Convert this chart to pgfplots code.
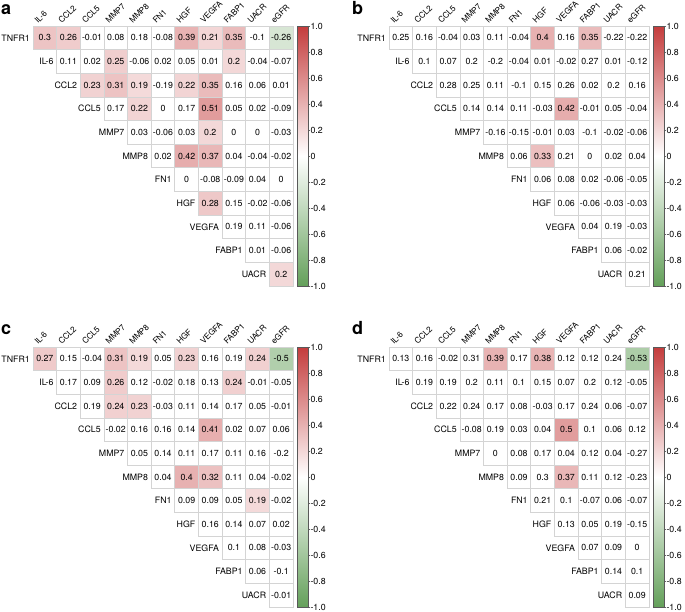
\documentclass[border=0pt]{standalone}
\usepackage{pgfplots}
\usepackage{pgfplotstable}
\usepackage{graphicx}
\pgfplotsset{compat=1.18}
\usepackage{fontspec}
\setmainfont{TeX Gyre Heros}
\newcommand\fs{\fontsize{8.8bp}{10bp}\selectfont}
\newcommand\fsc{\fontsize{8.2bp}{9bp}\selectfont}
\definecolor{pr}{RGB}{196,60,60}
\definecolor{pg}{RGB}{100,160,90}
\definecolor{gridc}{RGB}{212,212,212}
\tikzset{rl/.style={anchor=east, font=\fs, inner sep=0pt, xshift=-3bp},
         cl/.style={anchor=south west, font=\fsc, inner sep=0pt, xshift=-11bp, yshift=2bp}}
\newcommand\rt[1]{\rotatebox{45}{#1}}
\pgfplotsset{
  colormap={gwr}{rgb255=(100,160,90) rgb255=(255,255,255) rgb255=(196,60,60)},
  cm/.style={
    anchor=north west,
    scale only axis, width=260bp, height=260bp,
    xmin=-0.5, xmax=10.5, ymin=-0.5, ymax=10.5,
    clip=false,
    axis line style={draw=none},
    xtick=\empty, ytick=\empty,
    colormap name=gwr, point meta min=-1, point meta max=1,
    colorbar,
    colorbar style={
      at={(parent axis.north east)}, anchor=north west, xshift=-4bp,
      scale only axis, width=10.5bp, height=260bp,
      ytick={-1,-0.8,-0.6,-0.4,-0.2,0,0.2,0.4,0.6,0.8,1},
      yticklabels={-1.0,-0.8,-0.6,-0.4,-0.2,0,0.2,0.4,0.6,0.8,1.0},
      yticklabel style={font=\fs, inner sep=0.3bp},
      ytick pos=right, yticklabel pos=right,
      tick align=outside, major tick length=2bp,
      ytick style={draw=black!60, line width=0.5bp},
      axis line style={draw=black!65, line width=0.6bp},
    },
  },
  cells/.style={only marks, mark=square*, mark size=11.818bp,
    mark options={fill=white, draw=gridc, line width=0.7bp}},
  texts/.style={draw=none, mark=none, point meta=explicit symbolic,
    nodes near coords,
    every node near coord/.append style={anchor=center, font=\fs, inner sep=0pt, text=black}},
}
\newcommand\cR[3]{\addplot[only marks, mark=square*, mark size=11.818bp,
    mark options={fill=pr!#3!white, draw=gridc, line width=0.7bp}] coordinates {(#1,#2)};}
\newcommand\cG[3]{\addplot[only marks, mark=square*, mark size=11.818bp,
    mark options={fill=pg!#3!white, draw=gridc, line width=0.7bp}] coordinates {(#1,#2)};}
\newcommand\lbls{%
  \node[rl] at (axis cs:-0.5,10) {TNFR1};
  \node[rl] at (axis cs:0.5,9) {IL-6};
  \node[rl] at (axis cs:1.5,8) {CCL2};
  \node[rl] at (axis cs:2.5,7) {CCL5};
  \node[rl] at (axis cs:3.5,6) {MMP7};
  \node[rl] at (axis cs:4.5,5) {MMP8};
  \node[rl] at (axis cs:5.5,4) {FN1};
  \node[rl] at (axis cs:6.5,3) {HGF};
  \node[rl] at (axis cs:7.5,2) {VEGFA};
  \node[rl] at (axis cs:8.5,1) {FABP1};
  \node[rl] at (axis cs:9.5,0) {UACR};
  \node[cl] at (axis cs:0,10.5) {\rt{IL-6}};
  \node[cl] at (axis cs:1,10.5) {\rt{CCL2}};
  \node[cl] at (axis cs:2,10.5) {\rt{CCL5}};
  \node[cl] at (axis cs:3,10.5) {\rt{MMP7}};
  \node[cl] at (axis cs:4,10.5) {\rt{MMP8}};
  \node[cl] at (axis cs:5,10.5) {\rt{FN1}};
  \node[cl] at (axis cs:6,10.5) {\rt{HGF}};
  \node[cl] at (axis cs:7,10.5) {\rt{VEGFA}};
  \node[cl] at (axis cs:8,10.5) {\rt{FABP1}};
  \node[cl] at (axis cs:9,10.5) {\rt{UACR}};
  \node[cl] at (axis cs:10,10.5) {\rt{eGFR}};
}
% x = column, y = 10 - row, r = correlation
\pgfplotstableread{
x y r
0 10 0.3
1 10 0.26
2 10 -0.01
3 10 0.08
4 10 0.18
5 10 -0.08
6 10 0.39
7 10 0.21
8 10 0.35
9 10 -0.1
10 10 -0.26
1 9 0.11
2 9 0.02
3 9 0.25
4 9 -0.06
5 9 0.02
6 9 0.05
7 9 0.01
8 9 0.2
9 9 -0.04
10 9 -0.07
2 8 0.23
3 8 0.31
4 8 0.19
5 8 -0.19
6 8 0.22
7 8 0.35
8 8 0.16
9 8 0.06
10 8 0.01
3 7 0.17
4 7 0.22
5 7 0
6 7 0.17
7 7 0.51
8 7 0.05
9 7 0.02
10 7 -0.09
4 6 0.03
5 6 -0.06
6 6 0.03
7 6 0.2
8 6 0
9 6 0
10 6 -0.03
5 5 0.02
6 5 0.42
7 5 0.37
8 5 0.04
9 5 -0.04
10 5 -0.02
6 4 0
7 4 -0.08
8 4 -0.09
9 4 0.04
10 4 0
7 3 0.28
8 3 0.15
9 3 -0.02
10 3 -0.06
8 2 0.19
9 2 0.11
10 2 -0.06
9 1 0.01
10 1 -0.06
10 0 0.2
}\tabA
\pgfplotstableread{
x y r
0 10 0.25
1 10 0.16
2 10 -0.04
3 10 0.03
4 10 0.11
5 10 -0.04
6 10 0.4
7 10 0.16
8 10 0.35
9 10 -0.22
10 10 -0.22
1 9 0.1
2 9 0.07
3 9 0.2
4 9 -0.2
5 9 -0.04
6 9 0.01
7 9 -0.02
8 9 0.27
9 9 0.01
10 9 -0.12
2 8 0.28
3 8 0.25
4 8 0.11
5 8 -0.1
6 8 0.15
7 8 0.26
8 8 0.02
9 8 0.2
10 8 0.16
3 7 0.14
4 7 0.14
5 7 0.11
6 7 -0.03
7 7 0.42
8 7 -0.01
9 7 0.05
10 7 -0.04
4 6 -0.16
5 6 -0.15
6 6 -0.01
7 6 0.03
8 6 -0.1
9 6 -0.02
10 6 -0.06
5 5 0.06
6 5 0.33
7 5 0.21
8 5 0
9 5 0.02
10 5 0.04
6 4 0.06
7 4 0.08
8 4 0.02
9 4 -0.06
10 4 -0.05
7 3 0.06
8 3 -0.06
9 3 -0.03
10 3 -0.03
8 2 0.04
9 2 0.19
10 2 -0.03
9 1 0.06
10 1 -0.02
10 0 0.21
}\tabB
\pgfplotstableread{
x y r
0 10 0.27
1 10 0.15
2 10 -0.04
3 10 0.31
4 10 0.19
5 10 0.05
6 10 0.23
7 10 0.16
8 10 0.19
9 10 0.24
10 10 -0.5
1 9 0.17
2 9 0.09
3 9 0.26
4 9 0.12
5 9 -0.02
6 9 0.18
7 9 0.13
8 9 0.24
9 9 -0.01
10 9 -0.05
2 8 0.19
3 8 0.24
4 8 0.23
5 8 -0.03
6 8 0.11
7 8 0.14
8 8 0.17
9 8 0.05
10 8 -0.01
3 7 -0.02
4 7 0.16
5 7 0.16
6 7 0.14
7 7 0.41
8 7 0.02
9 7 0.07
10 7 0.06
4 6 0.05
5 6 0.14
6 6 0.11
7 6 0.17
8 6 0.11
9 6 0.16
10 6 -0.2
5 5 0.04
6 5 0.4
7 5 0.32
8 5 0.11
9 5 0.04
10 5 -0.02
6 4 0.09
7 4 0.09
8 4 0.05
9 4 0.19
10 4 -0.02
7 3 0.16
8 3 0.14
9 3 0.07
10 3 0.02
8 2 0.1
9 2 0.08
10 2 -0.03
9 1 0.06
10 1 -0.1
10 0 -0.01
}\tabC
\pgfplotstableread{
x y r
0 10 0.13
1 10 0.16
2 10 -0.02
3 10 0.31
4 10 0.39
5 10 0.17
6 10 0.38
7 10 0.12
8 10 0.12
9 10 0.24
10 10 -0.53
1 9 0.19
2 9 0.19
3 9 0.2
4 9 0.11
5 9 0.1
6 9 0.15
7 9 0.07
8 9 0.2
9 9 0.12
10 9 -0.05
2 8 0.22
3 8 0.24
4 8 0.17
5 8 0.08
6 8 -0.03
7 8 0.17
8 8 0.24
9 8 0.06
10 8 -0.07
3 7 -0.08
4 7 0.19
5 7 0.03
6 7 0.04
7 7 0.5
8 7 0.1
9 7 0.06
10 7 0.12
4 6 0
5 6 0.08
6 6 0.17
7 6 0.04
8 6 0.12
9 6 0.04
10 6 -0.27
5 5 0.09
6 5 0.3
7 5 0.37
8 5 0.11
9 5 0.12
10 5 -0.23
6 4 0.21
7 4 0.1
8 4 -0.07
9 4 0.06
10 4 -0.07
7 3 0.13
8 3 0.05
9 3 0.19
10 3 -0.15
8 2 0.07
9 2 0.09
10 2 0
9 1 0.14
10 1 0.1
10 0 0.09
}\tabD
\begin{document}
\begin{tikzpicture}
\useasboundingbox (0,0) rectangle (685bp,-612bp);
\node[anchor=base west, font=\fontsize{18bp}{20bp}\selectfont\bfseries, inner sep=0pt] at (1bp,-14bp) {a};
\node[anchor=base west, font=\fontsize{18bp}{20bp}\selectfont\bfseries, inner sep=0pt] at (352bp,-14bp) {b};
\node[anchor=base west, font=\fontsize{18bp}{20bp}\selectfont\bfseries, inner sep=0pt] at (1bp,-334bp) {c};
\node[anchor=base west, font=\fontsize{18bp}{20bp}\selectfont\bfseries, inner sep=0pt] at (352bp,-334bp) {d};

% ---------------- panel a
\begin{axis}[cm, at={(33bp,-26bp)}]
\addplot[cells] table[x=x,y=y] {\tabA};
\cR{0}{10}{30}\cR{1}{10}{26}\cR{6}{10}{39}\cR{7}{10}{21}\cR{8}{10}{35}\cG{10}{10}{26}
\cR{3}{9}{25}\cR{8}{9}{20}
\cR{2}{8}{23}\cR{3}{8}{31}\cR{4}{8}{19}\cR{6}{8}{22}\cR{7}{8}{35}
\cR{4}{7}{22}\cR{7}{7}{51}
\cR{7}{6}{20}
\cR{6}{5}{42}\cR{7}{5}{37}
\cR{7}{3}{28}
\cR{10}{0}{20}
\addplot[texts] table[x=x,y=y,meta=r] {\tabA};
\lbls
\end{axis}

% ---------------- panel b
\begin{axis}[cm, at={(389bp,-26bp)}]
\addplot[cells] table[x=x,y=y] {\tabB};
\cR{6}{10}{40}\cR{8}{10}{35}
\cR{7}{7}{42}
\cR{6}{5}{33}
\addplot[texts] table[x=x,y=y,meta=r] {\tabB};
\lbls
\end{axis}

% ---------------- panel c
\begin{axis}[cm, at={(33bp,-347bp)}]
\addplot[cells] table[x=x,y=y] {\tabC};
\cR{0}{10}{27}\cR{3}{10}{31}\cR{4}{10}{19}\cR{6}{10}{23}\cR{9}{10}{24}\cG{10}{10}{50}
\cR{3}{9}{26}\cR{8}{9}{24}
\cR{3}{8}{24}\cR{4}{8}{23}
\cR{7}{7}{41}
\cR{6}{5}{40}\cR{7}{5}{32}
\cR{9}{4}{19}
\addplot[texts] table[x=x,y=y,meta=r] {\tabC};
\lbls
\end{axis}

% ---------------- panel d
\begin{axis}[cm, at={(389bp,-347bp)}]
\addplot[cells] table[x=x,y=y] {\tabD};
\cR{4}{10}{39}\cR{6}{10}{38}\cG{10}{10}{53}
\cR{7}{7}{50}
\cR{7}{5}{37}
\addplot[texts] table[x=x,y=y,meta=r] {\tabD};
\lbls
\end{axis}
\end{tikzpicture}
\end{document}
